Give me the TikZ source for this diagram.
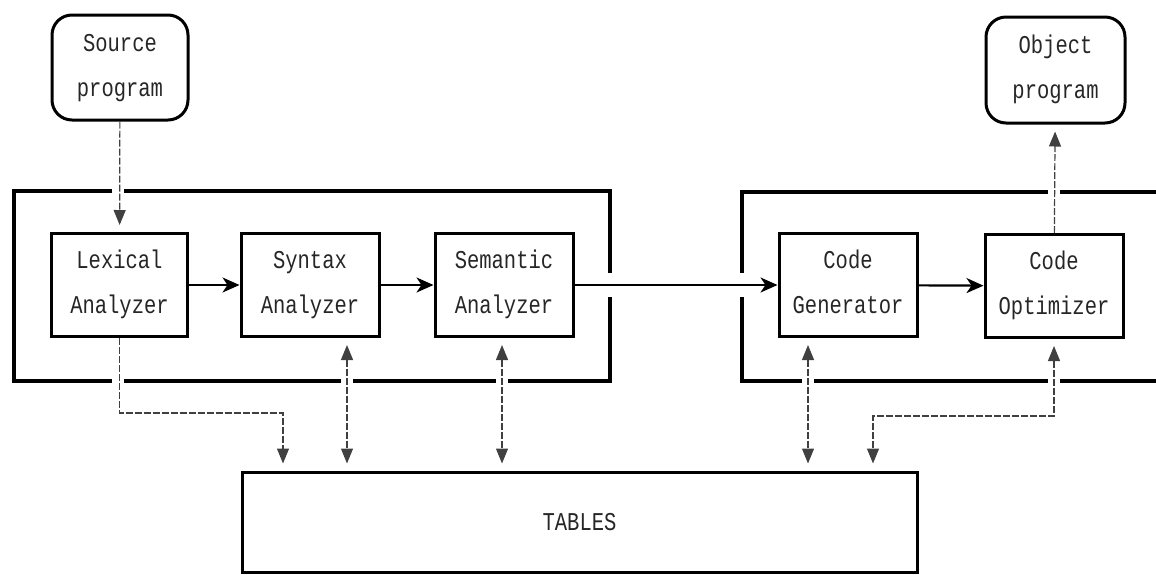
\documentclass[tikz,border=0pt]{standalone}
\usepackage{fontspec}
\newfontfamily\dotfont{Liberation Mono}
\usetikzlibrary{arrows.meta}
% two stacked lines of tall, narrow printer-style lettering
\newcommand\twoline[2]{\scalebox{1}[1.25]{\begin{tabular}{@{}c@{}}#1\\[12pt]#2\end{tabular}}}
\newcommand\oneline[1]{\scalebox{1}[1.25]{#1}}

\begin{document}
\begin{tikzpicture}[x=1pt,y=-1pt,
  label font/.style={font=\fontsize{20.5}{24}\selectfont\dotfont},
  phase/.style={draw, line width=3pt, minimum width=136pt, minimum height=103pt,
    inner sep=0pt, label font, text=black!85},
  terminal/.style={phase, rounded corners=20pt},
  store/.style={draw, line width=3pt, minimum width=675pt, minimum height=100pt,
    inner sep=0pt, label font, text=black!85},
  frame/.style={line width=4pt, line join=miter},
  flow/.style={line width=2.2pt, -{Stealth[length=17pt,width=15pt,inset=5pt]}},
  tri/.tip={Triangle[length=15pt,width=12pt]},
  link/.style={line width=1.2pt, black!75, dash pattern=on 7pt off 2pt},
]
\useasboundingbox (0,0) rectangle (1156,574);

% program ends
\node[terminal, minimum width=136pt, minimum height=105pt] (src) at (120,67.5) {\twoline{Source}{program}};
\node[terminal, minimum width=139pt, minimum height=106pt] (obj) at (1055.5,70) {\twoline{Object}{program}};

% compiler phases
\node[phase] (lex) at (119.5,285) {\twoline{Lexical}{Analyzer}};
\node[phase, minimum width=138pt] (syn) at (310,285) {\twoline{Syntax}{Analyzer}};
\node[phase, minimum width=138pt] (sem) at (504,285) {\twoline{Semantic}{Analyzer}};
\node[phase, minimum width=138pt] (gen) at (848,285) {\twoline{Code}{Generator}};
\node[phase, minimum width=138pt] (opt) at (1054,286) {\twoline{Code}{Optimizer}};

% symbol tables
\node[store] (tab) at (579.5,522) {\oneline{TABLES}};

% analysis frame (broken where connectors pass)
\draw[frame] (112,191) -- (14,191) -- (14,381) -- (112,381);
\draw[frame] (124,381) -- (341,381);
\draw[frame] (353,381) -- (496,381);
\draw[frame] (508,381) -- (610,381) -- (610,297);
\draw[frame] (610,273) -- (610,191) -- (124,191);

% synthesis frame, running off to the right
\draw[frame] (1048,192) -- (742,192) -- (742,273);
\draw[frame] (742,297) -- (742,381) -- (802,381);
\draw[frame] (814,381) -- (1048,381);
\draw[frame] (1060,381) -- (1156,381);
\draw[frame] (1060,192) -- (1156,192);

% main data flow
\draw[flow] (lex) -- (syn);
\draw[flow] (syn) -- (sem);
\draw[flow] (sem) -- (gen);
\draw[flow] (gen) -- (opt);

% connector routing points
\coordinate (synx) at (347,0);
\coordinate (semx) at (502,0);
\coordinate (genx) at (808,0);
\coordinate (lexturn) at (283,413);
\coordinate (optturn) at (873,416);

% input, output and table access
\draw[link, -tri, shorten >=7pt] (src) -- (lex);
\draw[link, -tri, shorten >=7pt] (opt) -- (obj);
\draw[link, -tri, shorten >=7pt] (lex.south) |- (lexturn) -- (tab.north -| lexturn);
\draw[link, tri-tri, shorten >=7pt, shorten <=7pt] (syn.south -| synx) -- (tab.north -| synx);
\draw[link, tri-tri, shorten >=7pt, shorten <=7pt] (sem.south -| semx) -- (tab.north -| semx);
\draw[link, tri-tri, shorten >=7pt, shorten <=7pt] (gen.south -| genx) -- (tab.north -| genx);
\draw[link, tri-tri, shorten >=7pt, shorten <=7pt] (opt.south) |- (optturn) -- (tab.north -| optturn);
\end{tikzpicture}
\end{document}
